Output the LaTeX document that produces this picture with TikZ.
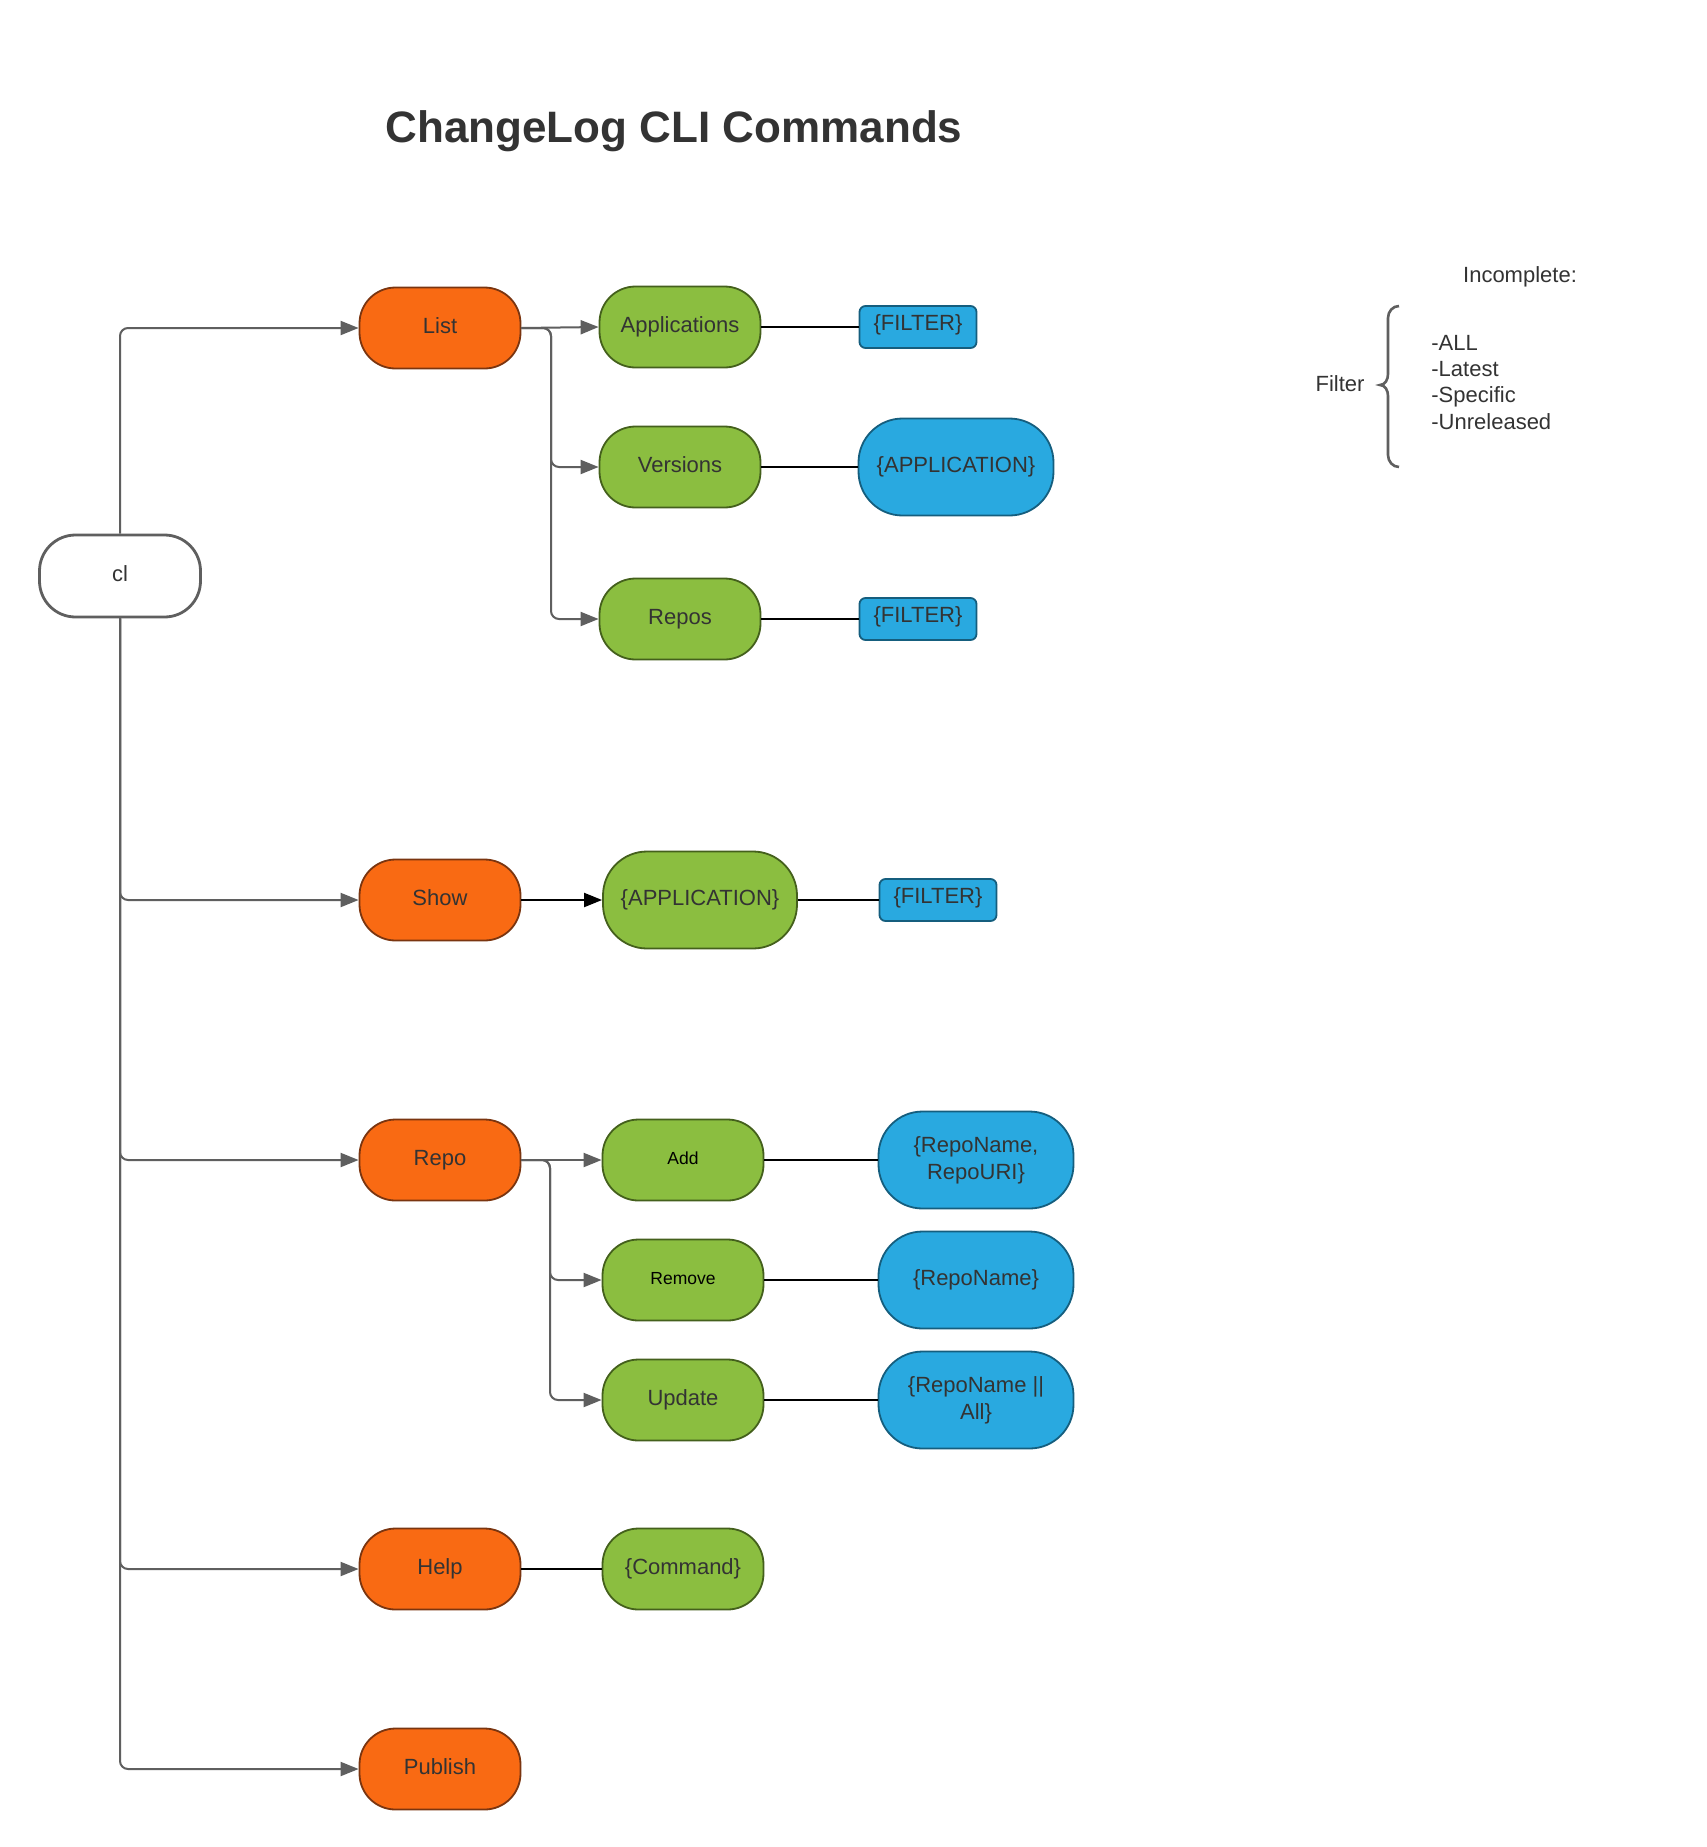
\documentclass[tikz,border=0pt]{standalone}
\usepackage{fontspec}
\setmainfont{Liberation Sans}
\usetikzlibrary{arrows.meta}
\definecolor{orng}{HTML}{F96A13}
\definecolor{orngb}{HTML}{7A3510}
\definecolor{grn}{HTML}{8BBE40}
\definecolor{grnb}{HTML}{44601C}
\definecolor{blu}{HTML}{29A9E0}
\definecolor{blub}{HTML}{155E7E}
\definecolor{lgray}{HTML}{5F5F5F}
\definecolor{txt}{HTML}{333333}
\begin{document}
\begin{tikzpicture}[x=0.5pt,y=-0.5pt,
  base/.style={draw, line width=0.9pt, inner sep=0pt, align=center, text=txt, font=\fontsize{11}{13.4}\selectfont},
  oneline/.style={text height=8pt, text depth=2.3pt},
  rootbox/.style={base, oneline, fill=white, draw=lgray, line width=1.4pt, minimum width=80.5pt, minimum height=41pt, rounded corners=18pt},
  cmd/.style={base, oneline, fill=orng, draw=orngb, minimum width=80.5pt, minimum height=40.5pt, rounded corners=18pt},
  sub/.style={base, oneline, fill=grn, draw=grnb, minimum width=80.5pt, minimum height=40.5pt, rounded corners=18pt},
  subwide/.style={base, fill=grn, draw=grnb, minimum width=97pt, minimum height=48.5pt, rounded corners=22pt},
  arg/.style={base, fill=blu, draw=blub, minimum width=97.5pt, minimum height=48.5pt, rounded corners=22pt},
  tag/.style={base, fill=blu, draw=blub, minimum width=58.5pt, minimum height=21pt, rounded corners=3pt, text height=8pt, text depth=5pt},
  small/.style={text=black, font=\fontsize{8.75}{10.5}\selectfont, text height=6.4pt, text depth=1.8pt},
  link/.style={draw=lgray, line width=1pt, rounded corners=4pt, -{Triangle[length=9pt,width=7pt]}},
  blink/.style={draw=black, line width=1pt},
  plain/.style={inner sep=0pt, text=txt, font=\fontsize{11}{13.4}\selectfont},
]
\useasboundingbox[fill=white] (0,0) rectangle (1707,1847);

% title
\node[plain, anchor=base, font=\fontsize{22}{26}\selectfont\bfseries] (title) at (674,142) {ChangeLog CLI Commands};

% root
\node[rootbox] (cl) at (120,576) {cl};

% commands
\node[cmd] (List) at (440,328) {List};
\node[cmd] (Show) at (440,900) {Show};
\node[cmd] (Repo) at (440,1160) {Repo};
\node[cmd] (Help) at (440,1569) {Help};
\node[cmd] (Publish) at (440,1769) {Publish};

% list subcommands
\node[sub] (Applications) at (680,327) {Applications};
\node[sub] (Versions) at (680,467) {Versions};
\node[sub] (Repos) at (680,619) {Repos};
\node[tag] (f1) at (918,327) {\{FILTER\}};
\node[arg] (vapp) at (956,467) {\{APPLICATION\}};
\node[tag] (f2) at (918,619) {\{FILTER\}};

% show
\node[subwide] (sapp) at (700,900) {\{APPLICATION\}};
\node[tag] (f3) at (938,900) {\{FILTER\}};

% repo subcommands
\node[sub, small] (Add) at (683,1160) {Add};
\node[sub, small] (Remove) at (683,1280) {Remove};
\node[sub] (Update) at (683,1400) {Update};
\node[arg] (rnu) at (976,1160) {\{RepoName,\\RepoURI\}};
\node[arg] (rn) at (976,1280) {\{RepoName\}};
\node[arg] (rna) at (976,1400) {\{RepoName ||\\All\}};

% help
\node[sub] (Command) at (683,1569) {\{Command\}};

% connectors from root
\draw[link] (cl.north) |- (List.west);
\draw[link] (cl.south) |- (Show.west);
\draw[link] (cl.south) |- (Repo.west);
\draw[link] (cl.south) |- (Help.west);
\draw[link] (cl.south) |- (Publish.west);

% list branches
\coordinate (lb) at (551,0);
\draw[link] (List.east) -- (Applications.west);
\draw[link] (List.east) -- (List.east -| lb) |- (Versions.west);
\draw[link] (List.east) -- (List.east -| lb) |- (Repos.west);
\draw[blink] (Applications.east) -- (f1.west);
\draw[blink] (Versions.east) -- (vapp.west);
\draw[blink] (Repos.east) -- (f2.west);

% show
\draw[blink, -{Triangle[length=9pt,width=7pt]}] (Show.east) -- (sapp.west);
\draw[blink] (sapp.east) -- (f3.west);

% repo branches
\coordinate (rb) at (550,0);
\draw[link] (Repo.east) -- (Add.west);
\draw[link] (Repo.east) -- (Repo.east -| rb) |- (Remove.west);
\draw[link] (Repo.east) -- (Repo.east -| rb) |- (Update.west);
\draw[blink] (Add.east) -- (rnu.west);
\draw[blink] (Remove.east) -- (rn.west);
\draw[blink] (Update.east) -- (rna.west);

% help
\draw[blink] (Help.east) -- (Command.west);

% legend
\node[plain, anchor=base] (inc) at (1520,282) {Incomplete:};
\node[plain, anchor=base] (filt) at (1340,391) {Filter};
\draw[draw=lgray, line width=1.3pt] (1399,306) to[out=180,in=90] (1388,318) -- (1388,374) to[out=-90,in=0] (1380,385) to[out=0,in=90] (1388,396) -- (1388,455) to[out=-90,in=180] (1399,467);
\node[plain, anchor=base west] (i1) at (1431,350) {-ALL};
\node[plain, anchor=base west] (i2) at (1431,376) {-Latest};
\node[plain, anchor=base west] (i3) at (1431,402) {-Specific};
\node[plain, anchor=base west] (i4) at (1431,429) {-Unreleased};
\end{tikzpicture}
\end{document}
